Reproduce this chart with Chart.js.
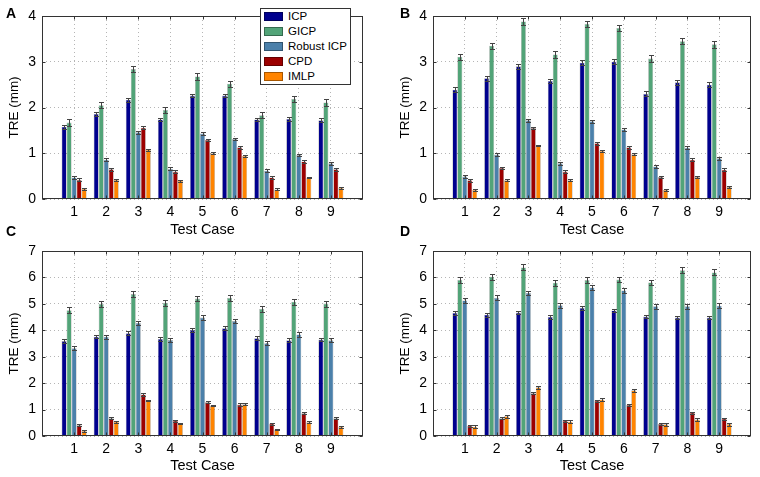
<!DOCTYPE html>
<html><head><meta charset="utf-8">
<script src="https://cdn.jsdelivr.net/npm/chart.js@4"></script>
<style>
html,body{margin:0;padding:0;background:#fff}
body{width:760px;height:477px;position:relative;overflow:hidden;font-family:"Liberation Sans",Arial,Helvetica,sans-serif}
canvas{position:absolute;display:block}
.letter{position:absolute;font-weight:bold;font-size:14px;line-height:14px;color:#000}
#legend{position:absolute;left:260px;top:8px;width:91px;height:77px;border:1px solid #333;background:#fff;box-sizing:border-box}
.row{position:absolute;left:3px;height:15px;font-size:11.5px;line-height:15px;color:#000;white-space:nowrap}
.sw{position:absolute;left:0;top:3px;width:19px;height:9px;box-sizing:border-box;border:1px solid rgba(0,0,0,0.35)}
.lbl{position:absolute;left:24px;top:0}
</style></head>
<body>
<canvas id="cA" width="380" height="238" style="left:0;top:0"></canvas>
<canvas id="cB" width="369" height="238" style="left:391px;top:0"></canvas>
<canvas id="cC" width="380" height="242" style="left:0;top:235px"></canvas>
<canvas id="cD" width="369" height="242" style="left:391px;top:235px"></canvas>
<div class="letter" style="left:6px;top:6px">A</div>
<div class="letter" style="left:400px;top:6px">B</div>
<div class="letter" style="left:6px;top:224px">C</div>
<div class="letter" style="left:400px;top:224px">D</div>
<div id="legend"></div>
<script>
// ---- data ----
const cases = [1, 2, 3, 4, 5, 6, 7, 8, 9];
const seriesNames = ['ICP', 'GICP', 'Robust ICP', 'CPD', 'IMLP'];
const seriesColors = ['#00008e', '#52a478', '#4b80aa', '#9c0000', '#ff8400'];

// Panel A
const aICP    = [1.58, 1.86, 2.17, 1.74, 2.26, 2.26, 1.74, 1.75, 1.72];
const aGICP   = [1.67, 2.05, 2.84, 1.95, 2.68, 2.52, 1.83, 2.19, 2.11];
const aRobust = [0.47, 0.86, 1.46, 0.66, 1.43, 1.31, 0.62, 0.96, 0.78];
const aCPD    = [0.42, 0.65, 1.56, 0.60, 1.29, 1.13, 0.47, 0.82, 0.65];
const aIMLP   = [0.22, 0.42, 1.08, 0.40, 1.00, 0.94, 0.21, 0.47, 0.24];
const aErr    = [0.04, 0.07, 0.03, 0.03, 0.02];

// Panel B
const bICP    = [2.39, 2.64, 2.90, 2.58, 2.98, 3.00, 2.30, 2.55, 2.50];
const bGICP   = [3.11, 3.35, 3.88, 3.16, 3.83, 3.74, 3.07, 3.45, 3.38];
const bRobust = [0.49, 0.97, 1.72, 0.78, 1.70, 1.52, 0.71, 1.12, 0.89];
const bCPD    = [0.41, 0.68, 1.55, 0.60, 1.22, 1.13, 0.48, 0.86, 0.64];
const bIMLP   = [0.20, 0.41, 1.17, 0.41, 1.05, 0.98, 0.20, 0.48, 0.26];
const bErr    = [0.05, 0.07, 0.03, 0.03, 0.02];

// Panel C
const cICP    = [3.59, 3.76, 3.89, 3.67, 4.01, 4.08, 3.70, 3.62, 3.65];
const cGICP   = [4.76, 5.00, 5.37, 5.04, 5.20, 5.23, 4.81, 5.08, 5.01];
const cRobust = [3.32, 3.76, 4.28, 3.63, 4.48, 4.35, 3.51, 3.84, 3.62];
const cCPD    = [0.41, 0.67, 1.57, 0.58, 1.28, 1.19, 0.47, 0.86, 0.67];
const cIMLP   = [0.19, 0.54, 1.34, 0.48, 1.15, 1.20, 0.25, 0.52, 0.34];
const cErr    = [0.07, 0.11, 0.08, 0.04, 0.03];

// Panel D
const dICP    = [4.66, 4.59, 4.67, 4.51, 4.85, 4.75, 4.52, 4.48, 4.48];
const dGICP   = [5.91, 6.03, 6.38, 5.80, 5.90, 5.92, 5.81, 6.27, 6.19];
const dRobust = [5.13, 5.23, 5.41, 4.95, 5.62, 5.51, 4.91, 4.91, 4.93];
const dCPD    = [0.39, 0.67, 1.62, 0.58, 1.34, 1.18, 0.46, 0.88, 0.66];
const dIMLP   = [0.35, 0.75, 1.84, 0.54, 1.38, 1.73, 0.44, 0.62, 0.45];
const dErr    = [0.07, 0.11, 0.09, 0.04, 0.06];

const yTitle = 'TRE (mm)';
const xTitle = 'Test Case';

// ---- plugins ----
const errorBars = {
  id: 'errorBars',
  afterDatasetsDraw(chart) {
    const ctx = chart.ctx, ys = chart.scales.y;
    ctx.save();
    ctx.strokeStyle = '#444';
    ctx.lineWidth = 1;
    chart.data.datasets.forEach((ds, d) => {
      const meta = chart.getDatasetMeta(d);
      meta.data.forEach((bar, i) => {
        const v = ds.data[i].y, e = ds.errorBar;
        const x = Math.round(bar.x) + 0.5;
        const t = Math.round(ys.getPixelForValue(v + e)) + 0.5;
        const b = Math.round(ys.getPixelForValue(v - e)) + 0.5;
        ctx.beginPath();
        ctx.moveTo(x, t); ctx.lineTo(x, b);
        ctx.moveTo(x - 2.5, t); ctx.lineTo(x + 2.5, t);
        ctx.moveTo(x - 2.5, b); ctx.lineTo(x + 2.5, b);
        ctx.stroke();
      });
    });
    ctx.restore();
  }
};
const frame = {
  id: 'frame',
  afterDraw(chart) {
    const {ctx, chartArea: a, scales} = chart;
    ctx.save();
    ctx.strokeStyle = '#333';
    ctx.lineWidth = 1;
    const l = Math.round(a.left) + 0.5, r = Math.round(a.right) - 0.5;
    const t = Math.round(a.top) + 0.5, b = Math.round(a.bottom) - 0.5;
    ctx.strokeRect(l, t, r - l, b - t);
    ctx.beginPath();
    scales.x.ticks.forEach(tk => {
      const x = Math.round(scales.x.getPixelForValue(tk.value)) + 0.5;
      ctx.moveTo(x, b); ctx.lineTo(x, b - 3);
      ctx.moveTo(x, t); ctx.lineTo(x, t + 3);
    });
    scales.y.ticks.forEach(tk => {
      const y = Math.round(scales.y.getPixelForValue(tk.value)) + 0.5;
      ctx.moveTo(l, y); ctx.lineTo(l + 3, y);
      ctx.moveTo(r, y); ctx.lineTo(r - 3, y);
    });
    ctx.stroke();
    ctx.restore();
  }
};

function makePanel(id, series, errs, yMax, rightPad, xHeight, xTitlePad) {
  const datasets = series.map((vals, s) => ({
    label: seriesNames[s],
    data: cases.map((c, i) => ({x: c, y: vals[i]})),
    backgroundColor: seriesColors[s],
    borderColor: 'rgba(0,0,0,0.35)',
    borderWidth: 0.6,
    errorBar: errs[s],
    categoryPercentage: 0.78,
    barPercentage: 1.0
  }));
  new Chart(document.getElementById(id), {
    type: 'bar',
    data: {datasets},
    options: {
      responsive: false,
      animation: false,
      layout: {padding: {top: 16, right: rightPad, left: 0, bottom: 0}},
      plugins: {legend: {display: false}, tooltip: {enabled: false}},
      scales: {
        x: {
          type: 'linear', min: 0, max: 10, offset: false,
          afterBuildTicks: s => { s.ticks = cases.map(v => ({value: v})); },
          afterFit: s => { s.height = xHeight; },
          ticks: {font: {size: 14, family: 'Liberation Sans'}, color: '#000', padding: 5, autoSkip: false, maxRotation: 0},
          grid: {color: '#b5b5b5', lineWidth: 1, drawTicks: false, offset: false},
          border: {display: false, dash: [1, 3]},
          title: {display: true, text: xTitle, font: {size: 14.5, family: 'Liberation Sans', lineHeight: 1}, color: '#000', padding: {top: 0, bottom: xTitlePad}}
        },
        y: {
          min: 0, max: yMax,
          afterFit: s => { s.width = 42; },
          ticks: {stepSize: 1, font: {size: 14, family: 'Liberation Sans'}, color: '#000', padding: 6},
          grid: {color: '#b5b5b5', lineWidth: 1, drawTicks: false},
          border: {display: false, dash: [1, 3]},
          title: {display: true, text: yTitle, font: {size: 13.5, family: 'Liberation Sans', lineHeight: 1}, color: '#000', padding: {top: 8, bottom: 0}}
        }
      }
    },
    plugins: [errorBars, frame]
  });
}

makePanel('cA', [aICP, aGICP, aRobust, aCPD, aIMLP], aErr, 4, 17, 39, 1);
makePanel('cB', [bICP, bGICP, bRobust, bCPD, bIMLP], bErr, 4, 9, 39, 1);
makePanel('cC', [cICP, cGICP, cRobust, cCPD, cIMLP], cErr, 7, 17, 41, 4);
makePanel('cD', [dICP, dGICP, dRobust, dCPD, dIMLP], dErr, 7, 9, 41, 4);

// legend (HTML, built from series arrays)
const lg = document.getElementById('legend');
const rowTops = [0, 15, 30, 45, 60];
seriesNames.forEach((n, i) => {
  const r = document.createElement('div');
  r.className = 'row';
  r.style.top = (rowTops[i]) + 'px';
  r.innerHTML = '<span class="sw" style="background:' + seriesColors[i] + '"></span><span class="lbl">' + n + '</span>';
  lg.appendChild(r);
});
</script>
</body></html>
